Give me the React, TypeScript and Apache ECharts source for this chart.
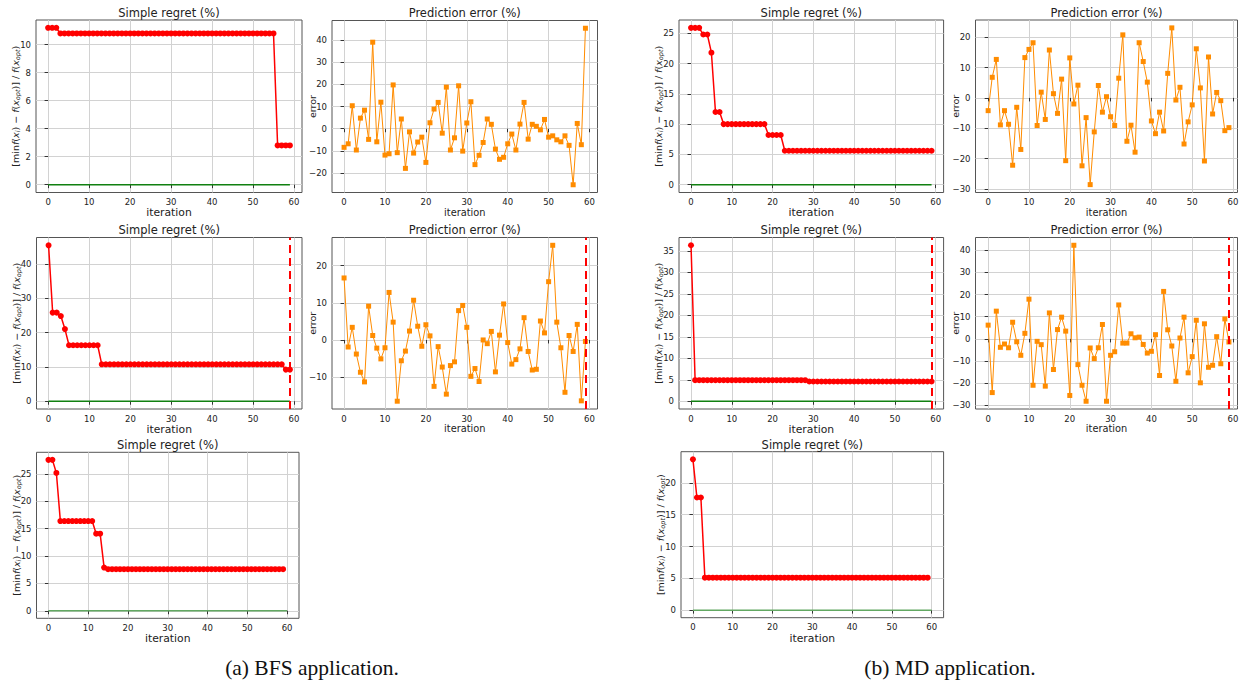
import React, { useEffect, useRef } from "react";
import * as echarts from "echarts";

// ---------- data ----------
const iterationTicks = [0, 10, 20, 30, 40, 50, 60];
const stopIteration = 59;
const optimumLine59 = [[0, 0], [59, 0]];
const optimumLine60 = [[0, 0], [60, 0]];

// BFS application
const bfsRegretA = [
  11.2, 11.2, 11.2,
  10.8, 10.8, 10.8, 10.8, 10.8, 10.8, 10.8,
  10.8, 10.8, 10.8, 10.8, 10.8, 10.8, 10.8, 10.8, 10.8, 10.8,
  10.8, 10.8, 10.8, 10.8, 10.8, 10.8, 10.8, 10.8, 10.8, 10.8,
  10.8, 10.8, 10.8, 10.8, 10.8, 10.8, 10.8, 10.8, 10.8, 10.8,
  10.8, 10.8, 10.8, 10.8, 10.8, 10.8, 10.8, 10.8, 10.8, 10.8,
  10.8, 10.8, 10.8, 10.8, 10.8, 10.8,
  2.8, 2.8, 2.8, 2.8,
];
const bfsErrorA = [
  -8.4, -6.8, 10.4, -9.6, 4.8, 8.4, -4.8, 39.1, -5.9, 12.0,
  -11.9, -11.3, 19.8, -10.8, 4.4, -17.9, -1.4, -11.0, -6.0, -3.8,
  -15.2, 2.7, 8.9, 11.9, -2.0, 18.8, -9.6, -4.1, 19.4, -10.1,
  2.6, 12.2, -16.2, -12.0, -6.2, 4.4, 2.0, -9.2, -13.8, -12.9,
  -6.8, -2.4, -9.6, 2.1, 11.9, -4.7, 2.0, 1.1, -0.5, 4.2,
  -3.8, -3.2, -5.0, -5.9, -3.2, -7.5, -25.3, 2.4, -7.2, 45.4,
];
const bfsRegretB = [
  45.4, 25.8, 25.8, 24.8, 21.0,
  16.3, 16.3, 16.3, 16.3, 16.3,
  16.3, 16.3, 16.3,
  10.75, 10.75, 10.75, 10.75, 10.75, 10.75, 10.75,
  10.75, 10.75, 10.75, 10.75, 10.75, 10.75, 10.75, 10.75, 10.75, 10.75,
  10.75, 10.75, 10.75, 10.75, 10.75, 10.75, 10.75, 10.75, 10.75, 10.75,
  10.75, 10.75, 10.75, 10.75, 10.75, 10.75, 10.75, 10.75, 10.75, 10.75,
  10.75, 10.75, 10.75, 10.75, 10.75, 10.75, 10.75, 10.75,
  9.2, 9.2,
];
const bfsErrorB = [
  16.7, -1.9, 3.4, -3.8, -8.7, -11.3, 9.1, 1.2, -2.2, -5.1,
  -2.1, 12.8, 4.8, -16.5, -5.6, -3.0, 2.4, 10.7, 3.7, -1.7,
  4.1, 1.1, -12.5, -1.8, -7.3, -14.6, -6.9, -5.9, 7.9, 9.3,
  3.4, -9.8, -7.7, -11.2, 0.0, -1.0, 2.3, -8.6, 1.3, 9.7,
  -0.7, -6.5, -5.3, -2.4, 6.0, -3.1, -8.1, -7.9, 5.1, 1.9,
  15.7, 25.5, 4.8, -2.1, -14.1, 1.2, -3.1, 4.2, -16.4, -0.4,
];
const bfsRegretC = [
  27.6, 27.6, 25.2,
  16.4, 16.4, 16.4, 16.4, 16.4, 16.4, 16.4,
  16.4, 16.4,
  14.1, 14.1,
  7.9,
  7.6, 7.6, 7.6, 7.6, 7.6,
  7.6, 7.6, 7.6, 7.6, 7.6, 7.6, 7.6, 7.6, 7.6, 7.6,
  7.6, 7.6, 7.6, 7.6, 7.6, 7.6, 7.6, 7.6, 7.6, 7.6,
  7.6, 7.6, 7.6, 7.6, 7.6, 7.6, 7.6, 7.6, 7.6, 7.6,
  7.6, 7.6, 7.6, 7.6, 7.6, 7.6, 7.6, 7.6, 7.6, 7.6,
];

// MD application
const mdRegretA = [
  25.9, 25.9, 25.9, 24.8, 24.8, 21.8, 12.0, 12.0, 10.0, 10.0,
  10.0, 10.0, 10.0, 10.0, 10.0, 10.0, 10.0, 10.0, 10.0,
  8.2,
  8.2, 8.2, 8.2,
  5.6, 5.6, 5.6, 5.6, 5.6, 5.6, 5.6,
  5.6, 5.6, 5.6, 5.6, 5.6, 5.6, 5.6, 5.6, 5.6, 5.6,
  5.6, 5.6, 5.6, 5.6, 5.6, 5.6, 5.6, 5.6, 5.6, 5.6,
  5.6, 5.6, 5.6, 5.6, 5.6, 5.6, 5.6, 5.6, 5.6, 5.6,
];
const mdErrorA = [
  -4.2, 6.8, 12.7, -8.9, -4.2, -8.7, -22.2, -3.1, -17.0, 13.3,
  16.0, 18.2, -9.1, 1.9, -7.1, 15.8, 1.4, -5.1, 6.2, -20.7,
  13.2, -2.0, 4.2, -22.4, -6.5, -28.6, -11.2, 4.1, -4.7, 0.4,
  -6.2, -9.1, 6.5, 20.8, -14.3, -9.0, -17.9, 18.2, 12.0, 5.2,
  -7.6, -11.8, -4.7, -10.9, 8.1, 23.1, -0.7, 3.5, -15.2, -7.9,
  -2.3, 16.2, 3.3, -20.8, 13.5, -5.3, 1.8, -0.9, -10.8, -9.8,
];
const mdRegretB = [
  36.3,
  4.9, 4.9, 4.9, 4.9, 4.9, 4.9, 4.9, 4.9, 4.9,
  4.9, 4.9, 4.9, 4.9, 4.9, 4.9, 4.9, 4.9, 4.9, 4.9,
  4.9, 4.9, 4.9, 4.9, 4.9, 4.9, 4.9, 4.9, 4.9,
  4.6,
  4.6, 4.6, 4.6, 4.6, 4.6, 4.6, 4.6, 4.6, 4.6, 4.6,
  4.6, 4.6, 4.6, 4.6, 4.6, 4.6, 4.6, 4.6, 4.6, 4.6,
  4.6, 4.6, 4.6, 4.6, 4.6, 4.6, 4.6, 4.6, 4.6, 4.6,
];
const mdErrorB = [
  6.2, -24.2, 12.5, -3.8, -2.3, -4.0, 7.5, -1.3, -7.4, 2.5,
  17.9, -20.9, -1.1, -2.6, -21.3, 11.7, -13.8, 4.2, 9.8, 3.5,
  -25.5, 42.2, -11.6, -20.9, -28.1, -4.1, -8.9, -4.0, 6.5, -28.1,
  -7.4, -5.8, 15.3, -1.9, -1.9, 2.3, 0.5, 0.8, -2.5, -6.4,
  -5.6, 1.9, -16.5, 21.4, 4.1, -3.2, -19.1, 0.4, 9.8, -15.3,
  -8.0, 8.4, -19.8, 6.8, -12.8, -11.9, 1.0, -11.2, 9.0, -1.4,
];
const mdRegretC = [
  23.7, 17.7, 17.7,
  5.1, 5.1, 5.1, 5.1, 5.1, 5.1, 5.1,
  5.1, 5.1, 5.1, 5.1, 5.1, 5.1, 5.1, 5.1, 5.1, 5.1,
  5.1, 5.1, 5.1, 5.1, 5.1, 5.1, 5.1, 5.1, 5.1, 5.1,
  5.1, 5.1, 5.1, 5.1, 5.1, 5.1, 5.1, 5.1, 5.1, 5.1,
  5.1, 5.1, 5.1, 5.1, 5.1, 5.1, 5.1, 5.1, 5.1, 5.1,
  5.1, 5.1, 5.1, 5.1, 5.1, 5.1, 5.1, 5.1, 5.1, 5.1,
];

// tick labels
const ticksRegretBfsA = [0, 2, 4, 6, 8, 10];
const ticksErrorBfsA = [-20, -10, 0, 10, 20, 30, 40];
const ticksRegretBfsB = [0, 10, 20, 30, 40];
const ticksErrorBfsB = [-10, 0, 10, 20];
const ticksRegretBfsC = [0, 5, 10, 15, 20, 25];
const ticksRegretMdA = [0, 5, 10, 15, 20, 25];
const ticksErrorMdA = [-30, -20, -10, 0, 10, 20];
const ticksRegretMdB = [0, 5, 10, 15, 20, 25, 30, 35];
const ticksErrorMdB = [-30, -20, -10, 0, 10, 20, 30, 40];
const ticksRegretMdC = [0, 5, 10, 15, 20];

const captions = ["(a) BFS application.", "(b) MD application."];

// ---------- layout ----------
type Panel = {
  kind: "regret" | "error";
  values: number[];
  yTicks: number[];
  yRange: [number, number];
  xRange: [number, number];
  box: [number, number, number, number];
  titleY: number;
  stop?: boolean;
  optimum?: number[][];
  optimumColor?: string;
};

const panels: Panel[] = [
  { kind: "regret", values: bfsRegretA, yTicks: ticksRegretBfsA, yRange: [-0.56, 11.76], xRange: [-2.95, 61.95], box: [36, 20, 266, 172.5], titleY: 13.3, optimum: optimumLine59, optimumColor: "#108010" },
  { kind: "error", values: bfsErrorA, yTicks: ticksErrorBfsA, yRange: [-28.8, 48.9], xRange: [-2.95, 61.95], box: [332, 20.5, 265.5, 172], titleY: 13.3 },
  { kind: "regret", values: bfsRegretB, yTicks: ticksRegretBfsB, yRange: [-2.27, 47.67], xRange: [-2.95, 61.95], box: [36.5, 237.5, 265.5, 171.5], titleY: 229.7, stop: true, optimum: optimumLine59, optimumColor: "#108010" },
  { kind: "error", values: bfsErrorB, yTicks: ticksErrorBfsB, yRange: [-18.6, 27.6], xRange: [-2.95, 61.95], box: [332, 237.5, 265.5, 171.5], titleY: 229.7, stop: true },
  { kind: "regret", values: bfsRegretC, yTicks: ticksRegretBfsC, yRange: [-1.38, 28.98], xRange: [-3, 63], box: [36.5, 452.3, 262.5, 166], titleY: 445, optimum: optimumLine60, optimumColor: "#62a862" },
  { kind: "regret", values: mdRegretA, yTicks: ticksRegretMdA, yRange: [-1.3, 27.2], xRange: [-2.95, 61.95], box: [679, 20, 264.6, 172.5], titleY: 13.3, optimum: optimumLine59, optimumColor: "#108010" },
  { kind: "error", values: mdErrorA, yTicks: ticksErrorMdA, yRange: [-31.2, 25.7], xRange: [-3.1, 61.1], box: [975.5, 20, 262, 172.5], titleY: 13.3 },
  { kind: "regret", values: mdRegretB, yTicks: ticksRegretMdB, yRange: [-1.8, 38.1], xRange: [-2.95, 61.95], box: [679, 237.5, 264.6, 171.5], titleY: 229.7, stop: true, optimum: optimumLine59, optimumColor: "#108010" },
  { kind: "error", values: mdErrorB, yTicks: ticksErrorMdB, yRange: [-31.6, 45.7], xRange: [-3.1, 61.1], box: [975.5, 237.5, 262, 171.5], titleY: 229.7, stop: true },
  { kind: "regret", values: mdRegretC, yTicks: ticksRegretMdC, yRange: [-1.19, 24.9], xRange: [-3, 63], box: [681, 451.7, 262.6, 166], titleY: 445, optimum: optimumLine60, optimumColor: "#62a862" },
];

const FONT = "DejaVu Sans";
const TEXT = "#222";
const minusFmt = (v: number) => (v < 0 ? "\u2212" + Math.abs(v) : String(v));

const regretName =
  "{t|[min}{i|f}{t|(}{i|x}{s|i}{t|) \u2212 }{i|f}{t|(}{i|x}{s|opt}{t|)] / }{i|f}{t|(}{i|x}{s|opt}{t|)}";

function buildOption() {
  const grid: any[] = [];
  const xAxis: any[] = [];
  const yAxis: any[] = [];
  const series: any[] = [];
  const title: any[] = [];

  panels.forEach((p, k) => {
    const [left, top, width, height] = p.box;
    grid.push({ left, top, width, height, show: true, borderColor: "#555", borderWidth: 1, backgroundColor: "transparent" });
    xAxis.push({
      type: "value",
      gridIndex: k,
      min: p.xRange[0],
      max: p.xRange[1],
      axisLine: { show: false },
      axisTick: { show: true, inside: false, length: 3.5, lineStyle: { color: "#333" }, customValues: iterationTicks },
      axisLabel: { customValues: iterationTicks, fontSize: 8.5, color: TEXT, margin: 5, fontFamily: FONT },
      splitLine: { show: true, lineStyle: { color: "#d2d2d2", width: 1 } },
      name: "iteration",
      nameLocation: "middle",
      nameGap: 13,
      nameTextStyle: { fontSize: p.kind === "regret" ? 10.8 : 9.8, color: TEXT, fontFamily: FONT },
    });
    yAxis.push({
      type: "value",
      gridIndex: k,
      min: p.yRange[0],
      max: p.yRange[1],
      axisLine: { show: false },
      axisTick: { show: true, inside: false, length: 3.5, lineStyle: { color: "#333" }, customValues: p.yTicks },
      axisLabel: { customValues: p.yTicks, fontSize: 8.5, color: TEXT, margin: 5, fontFamily: FONT, formatter: minusFmt },
      splitLine: { show: true, lineStyle: { color: "#d2d2d2", width: 1 } },
      name: p.kind === "regret" ? regretName : "error",
      nameLocation: "middle",
      nameGap: p.kind === "regret" ? 14.5 : 15,
      nameMoveOverlap: false,
      nameTextStyle:
        p.kind === "regret"
          ? {
              color: TEXT,
              fontFamily: FONT,
              fontSize: 9.5,
              rich: {
                t: { fontSize: 9.5, fontFamily: FONT, color: TEXT, lineHeight: 12, verticalAlign: "middle" },
                i: { fontSize: 9.5, fontFamily: FONT, color: TEXT, fontStyle: "italic", lineHeight: 12, verticalAlign: "middle" },
                s: { fontSize: 6.5, fontFamily: FONT, color: TEXT, fontStyle: "italic", lineHeight: 7, verticalAlign: "bottom" },
              },
            }
          : { fontSize: 9.5, color: TEXT, fontFamily: FONT },
    });

    title.push({
      text: p.kind === "regret" ? "Simple regret (%)" : "Prediction error (%)",
      left: left + width / 2,
      top: p.titleY - 7,
      textAlign: "center",
      padding: 0,
      textStyle: { fontSize: 11.5, fontWeight: "normal", color: TEXT, fontFamily: FONT, lineHeight: 14 },
    });

    if (p.optimum) {
      series.push({
        type: "line",
        xAxisIndex: k,
        yAxisIndex: k,
        data: p.optimum,
        symbol: "none",
        lineStyle: { color: p.optimumColor, width: 1.5 },
        z: 2,
        silent: true,
      });
    }

    const isRegret = p.kind === "regret";
    const color = isRegret ? "#ff0000" : "#ff8c00";
    series.push({
      type: "line",
      xAxisIndex: k,
      yAxisIndex: k,
      data: p.values.map((v, i) => [i, v]),
      symbol: isRegret ? "circle" : "rect",
      symbolSize: isRegret ? 6 : 5,
      itemStyle: { color, borderWidth: 0 },
      lineStyle: { color, width: isRegret ? 1.5 : 1 },
      z: 3,
      silent: true,
      markLine: p.stop
        ? {
            silent: true,
            symbol: ["none", "none"],
            label: { show: false },
            lineStyle: { color: "#ff0000", type: [8, 5], width: 2 },
            data: [{ xAxis: stopIteration }],
          }
        : undefined,
    });
  });

  title.push({
    text: captions[0],
    left: 312,
    top: 656,
    textAlign: "center",
    padding: 0,
    textStyle: { fontSize: 21.5, fontWeight: "normal", color: "#111", fontFamily: "Liberation Serif", lineHeight: 23 },
  });
  title.push({
    text: captions[1],
    left: 950,
    top: 656,
    textAlign: "center",
    padding: 0,
    textStyle: { fontSize: 21.5, fontWeight: "normal", color: "#111", fontFamily: "Liberation Serif", lineHeight: 23 },
  });

  return {
    animation: false,
    backgroundColor: "#ffffff",
    title,
    grid,
    xAxis,
    yAxis,
    series,
  };
}

export default function App() {
  const ref = useRef<HTMLDivElement>(null);
  useEffect(() => {
    if (!ref.current) return;
    const chart = echarts.init(ref.current, undefined, { renderer: "svg" });
    chart.setOption(buildOption() as any);
    return () => chart.dispose();
  }, []);
  return (
    <div
      ref={ref}
      style={{ position: "absolute", left: 0, top: 0, width: 1247, height: 683, background: "#fff" }}
    />
  );
}
